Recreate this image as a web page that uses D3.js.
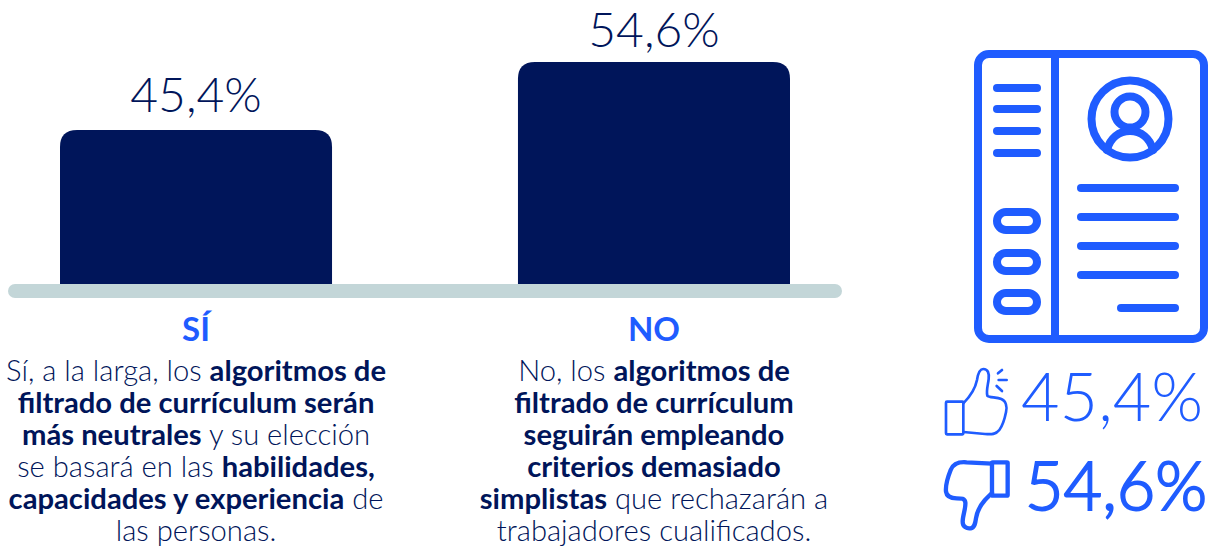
<!DOCTYPE html>
<html>
<head>
<meta charset="utf-8">
<script src="https://cdnjs.cloudflare.com/ajax/libs/d3/7.8.5/d3.min.js"></script>
<style>
  html, body { margin: 0; padding: 0; background: #fff; }
  svg { display: block; font-family: Lato, sans-serif; }
</style>
</head>
<body>
<div id="chart"></div>
<script>
// data
var categories = ["SÍ", "NO"];
var values = [45.4, 54.6];
// each line is a list of [text, isBold]
var descriptions = [
    [
        [["Sí, a la larga, los ", 0], ["algoritmos de", 1]],
        [["filtrado de currículum serán", 1]],
        [["más neutrales", 1], [" y su elección", 0]],
        [["se basará en las ", 0], ["habilidades,", 1]],
        [["capacidades y experiencia", 1], [" de", 0]],
        [["las personas.", 0]]
    ],
    [
        [["No, los ", 0], ["algoritmos de", 1]],
        [["filtrado de currículum", 1]],
        [["seguirán empleando", 1]],
        [["criterios demasiado", 1]],
        [["simplistas", 1], [" que rechazarán a", 0]],
        [["trabajadores cualificados.", 0]]
    ]
];

var navy = "#00155a";
var blue = "#1f5cff";
var fmt = function (v) { return v.toFixed(1).replace(".", ",") + "%"; };

var svg = d3.select("#chart")
    .append("svg")
    .attr("width", 1208)
    .attr("height", 548);

// the bars sit on a truncated axis
var baseY = 285;
var x = d3.scaleBand()
    .domain(categories)
    .range([60, 790])
    .paddingInner(0.406)
    .paddingOuter(0);
var y = d3.scaleLinear()
    .domain([24.4, 54.6])
    .range([baseY, 62]);

function barPath(d, i) {
    var c = categories[i], x0 = x(c), w = x.bandwidth(), t = y(d), r = 17;
    return "M" + x0 + "," + baseY + "V" + (t + r) + "Q" + x0 + "," + t + " " + (x0 + r) + "," + t +
        "H" + (x0 + w - r) + "Q" + (x0 + w) + "," + t + " " + (x0 + w) + "," + (t + r) + "V" + baseY + "Z";
}

svg.selectAll(".bar")
    .data(values)
    .enter()
    .append("path")
    .attr("class", "bar")
    .attr("fill", navy)
    .attr("d", barPath);

// baseline
svg.append("rect")
    .attr("x", 8).attr("y", 284)
    .attr("width", 834).attr("height", 14)
    .attr("rx", 7)
    .attr("fill", "#c3d6d8");

// value labels
svg.selectAll(".value")
    .data(values)
    .enter()
    .append("text")
    .attr("class", "value")
    .attr("x", function (d, i) { return x(categories[i]) + x.bandwidth() / 2; })
    .attr("y", function (d, i) { return y(d) - (i ? 15 : 18); })
    .attr("text-anchor", "middle")
    .attr("font-size", 48)
    .attr("font-weight", 300)
    .attr("fill", navy)
    .text(fmt);

// category names
svg.selectAll(".cat")
    .data(categories)
    .enter()
    .append("text")
    .attr("class", "cat")
    .attr("x", function (d) { return x(d) + x.bandwidth() / 2; })
    .attr("y", 341)
    .attr("text-anchor", "middle")
    .attr("font-size", 33)
    .attr("font-weight", 700)
    .attr("fill", blue)
    .text(function (d) { return d; });

// descriptions
descriptions.forEach(function (lines, i) {
    var cx = x(categories[i]) + x.bandwidth() / 2;
    lines.forEach(function (line, j) {
        svg.append("text")
            .attr("x", cx)
            .attr("y", 381 + j * 32)
            .attr("text-anchor", "middle")
            .attr("font-size", 29.2)
            .attr("fill", navy)
            .attr("xml:space", "preserve")
            .style("white-space", "pre")
            .selectAll("tspan")
            .data(line)
            .enter()
            .append("tspan")
            .attr("font-weight", function (s) { return s[1] ? 700 : 300; })
            .text(function (s) { return s[0]; });
    });
});

// CV icon
var cv = svg.append("g")
    .attr("fill", "none")
    .attr("stroke", blue)
    .attr("stroke-width", 8)
    .attr("stroke-linecap", "round");
cv.append("rect").attr("x", 978).attr("y", 54).attr("width", 226).attr("height", 285).attr("rx", 11);
cv.append("path").attr("d", "M1055,54V339").attr("stroke-linecap", "butt");
[88, 109, 131, 153].forEach(function (py) {
    cv.append("path").attr("d", "M997," + py + "H1037");
});
[212, 253, 293].forEach(function (py) {
    cv.append("rect").attr("x", 997).attr("y", py).attr("width", 40).attr("height", 18).attr("rx", 9);
});
cv.append("circle").attr("cx", 1130).attr("cy", 119).attr("r", 38.5);
cv.append("circle").attr("cx", 1130).attr("cy", 112).attr("r", 15.5);
cv.append("path").attr("d", "M1107,150C1110,138 1119,131 1130,131C1141,131 1150,138 1153,150");
[188, 217, 246, 275].forEach(function (py) {
    cv.append("path").attr("d", "M1081," + py + "H1175");
});
cv.append("path").attr("d", "M1121,308H1175");

// thumb icons
var up = svg.append("g")
    .attr("transform", "translate(930,355) scale(0.3333)")
    .attr("fill", "none")
    .attr("stroke", blue)
    .attr("stroke-width", 8)
    .attr("stroke-linecap", "round")
    .attr("stroke-linejoin", "round");
up.append("rect").attr("x", 48).attr("y", 140).attr("width", 52).attr("height", 98).attr("rx", 3);
up.append("path").attr("d", "M100,145C120,125 135,105 141,75C144,55 148,42 160,42C174,42 178,55 176,72C174,90 168,108 172,122C176,128 200,126 214,132C228,138 232,155 228,172C224,192 218,212 208,225C198,238 185,239 165,237L100,231");
up.append("path").attr("d", "M204,55L216,45M206,75H230M200,93L216,108");

var down = svg.append("g")
    .attr("transform", "translate(930,355) scale(0.3333)")
    .attr("fill", "none")
    .attr("stroke", blue)
    .attr("stroke-width", 13)
    .attr("stroke-linecap", "round")
    .attr("stroke-linejoin", "round");
down.append("rect").attr("x", 186).attr("y", 322).attr("width", 47).attr("height", 100).attr("rx", 2);
down.append("path").attr("d", "M186,326L110,322C85,320 70,325 62,345C54,365 46,390 48,410C50,425 62,430 80,430C95,430 104,430 106,442C108,460 98,480 98,500C98,515 110,522 122,520C134,518 136,505 138,490C141,470 150,452 165,435C172,428 180,420 186,414");

// big numbers beside the thumbs, the second one thickened with a stroke
svg.selectAll(".side")
    .data(values)
    .enter()
    .append("text")
    .attr("class", "side")
    .attr("x", function (d, i) { return i ? 1025 : 1021; })
    .attr("y", function (d, i) { return i ? 510 : 421; })
    .attr("font-size", 66.5)
    .attr("font-weight", 300)
    .attr("fill", blue)
    .attr("stroke", blue)
    .attr("stroke-width", function (d, i) { return i ? 2 : 0; })
    .text(fmt);
</script>
</body>
</html>
